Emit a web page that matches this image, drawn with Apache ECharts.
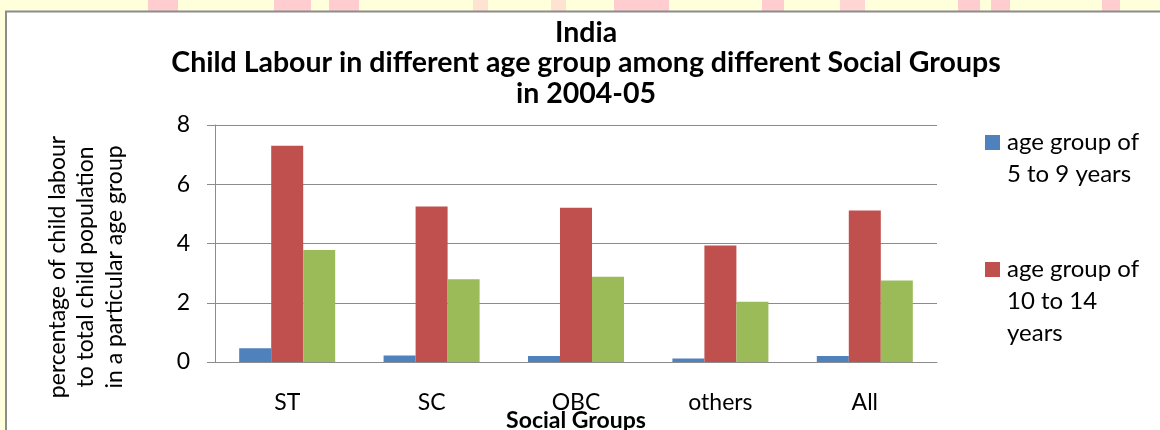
<!DOCTYPE html>
<html>
<head>
<meta charset="utf-8">
<script src="https://cdn.jsdelivr.net/npm/echarts@6/dist/echarts.min.js"></script>
<style>
  html, body { margin: 0; padding: 0; background: #ffffff; }
  #chart { width: 1160px; height: 430px; }
</style>
</head>
<body>
<div id="chart"></div>
<script>
// Social groups on the category axis
const categories = ['ST', 'SC', 'OBC', 'others', 'All'];

// Percentage of child labour in each age group
const age5to9 = [0.46, 0.22, 0.20, 0.12, 0.20];
const age10to14 = [7.30, 5.25, 5.21, 3.93, 5.11];
const age5to14 = [3.78, 2.79, 2.88, 2.03, 2.75];

const seriesNames = ['age group of 5 to 9 years', 'age group of 10 to 14 years', 'age group of 5 to 14 years'];
const legendLabels = [['age group of', '5 to 9 years'], ['age group of', '10 to 14', 'years']];

// Value axis ticks
const yTicks = [0, 2, 4, 6, 8];

const titleLines = ['India', 'Child Labour in different age group among different Social Groups', 'in 2004-05'];
const yAxisTitle = 'percentage of child labour\nto total child population\nin a particular age group';
const xAxisTitle = 'Social Groups';

const COLORS = ['#4F81BD', '#C0504D', '#9BBB59'];
const FONT = 'Lato, "Noto Sans", sans-serif';
const LEGEND_LINE = 32;

// Decorative page strip above the chart frame: [x0, x1, colour]
const stripBlocks = [
  [148, 178, '#FFCDD0'], [274, 311, '#FFCDD0'], [329, 359, '#FFCDD0'],
  [473, 488, '#FFE3D2'], [551, 566, '#FFE3D2'], [614, 669, '#FFCDD0'],
  [762, 784, '#FFCDD0'], [840, 865, '#FFD6D4'], [958, 980, '#FFCDD0'],
  [991, 1010, '#FFCDD0'], [1102, 1120, '#FFCDD0']
];

const chart = echarts.init(document.getElementById('chart'), null, { renderer: 'canvas' });

const graphics = [
  { type: 'rect', shape: { x: 0, y: 0, width: 1160, height: 11 }, style: { fill: '#FFFFDC' }, z: -10, silent: true },
  { type: 'rect', shape: { x: 0, y: 0, width: 5, height: 430 }, style: { fill: '#FFFFDC' }, z: -10, silent: true }
].concat(stripBlocks.map(b => ({
  type: 'rect', shape: { x: b[0], y: 0, width: b[1] - b[0], height: 11 },
  style: { fill: b[2] }, z: -9, silent: true
}))).concat([
  { type: 'line', shape: { x1: 5, y1: 11.5, x2: 1160, y2: 11.5 }, style: { stroke: '#8C8C8C', lineWidth: 2 }, silent: true },
  { type: 'line', shape: { x1: 6, y1: 11, x2: 6, y2: 430 }, style: { stroke: '#8C8C8C', lineWidth: 2 }, silent: true },
  {
    type: 'text', x: 86, y: 267, rotation: Math.PI / 2, silent: true,
    style: {
      text: yAxisTitle, align: 'center', verticalAlign: 'middle',
      font: '23px ' + FONT, lineHeight: 28.5, fill: '#000000'
    }
  }
]);

// Each legend entry keeps its swatch beside the first line of its wrapped label:
// leading blank lines push the vertically centred block down.
function legendFor(idx, iconTop) {
  const lines = legendLabels[idx];
  const pad = new Array(lines.length - 1).fill('');
  const text = pad.concat(lines).join('\n');
  const totalLines = lines.length * 2 - 1;
  const above = totalLines * LEGEND_LINE / 2 - 7.5;
  return {
    data: [seriesNames[idx]],
    orient: 'vertical',
    left: 985,
    top: iconTop - above,
    padding: 0,
    icon: 'rect',
    itemWidth: 15,
    itemHeight: 15,
    formatter: () => text,
    selectedMode: false,
    textStyle: {
      fontFamily: FONT, fontSize: 24, color: '#000000', lineHeight: LEGEND_LINE,
      padding: [0, 0, 0, 2]
    }
  };
}

chart.setOption({
  animation: false,
  backgroundColor: '#ffffff',
  textStyle: { fontFamily: FONT },
  title: {
    text: titleLines.join('\n'),
    left: 586,
    textAlign: 'center',
    top: 17.5,
    padding: 0,
    textStyle: { fontFamily: FONT, fontSize: 28.5, fontWeight: 'bold', color: '#000000', lineHeight: 30.5 }
  },
  legend: [legendFor(0, 135), legendFor(1, 262)],
  graphic: graphics,
  grid: { left: 215, right: 223, top: 125, bottom: 68, containLabel: false, outerBoundsMode: 'none' },
  xAxis: {
    type: 'category',
    data: categories,
    axisLine: { show: true, lineStyle: { color: '#8C8C8C', width: 1 } },
    axisTick: { show: false },
    axisLabel: { fontFamily: FONT, fontSize: 23, color: '#000000', margin: 29, lineHeight: 24 },
    name: xAxisTitle,
    nameLocation: 'middle',
    nameGap: 47,
    nameMoveOverlap: false,
    nameTextStyle: { fontFamily: FONT, fontSize: 23, fontWeight: 'bold', color: '#000000', lineHeight: 23 }
  },
  yAxis: {
    type: 'value',
    min: yTicks[0],
    max: yTicks[yTicks.length - 1],
    interval: yTicks[1] - yTicks[0],
    axisLine: { show: true, lineStyle: { color: '#8C8C8C', width: 1 } },
    axisTick: { show: true, length: 8, lineStyle: { color: '#8C8C8C' } },
    splitLine: { show: true, lineStyle: { color: '#8C8C8C', width: 1 } },
    axisLabel: { fontFamily: FONT, fontSize: 23, color: '#000000', margin: 25 }
  },
  series: [age5to9, age10to14, age5to14].map((vals, i) => ({
    name: seriesNames[i],
    type: 'bar',
    data: vals,
    barGap: '0%',
    barCategoryGap: '33.5%',
    itemStyle: { color: COLORS[i] }
  }))
});
</script>
</body>
</html>
